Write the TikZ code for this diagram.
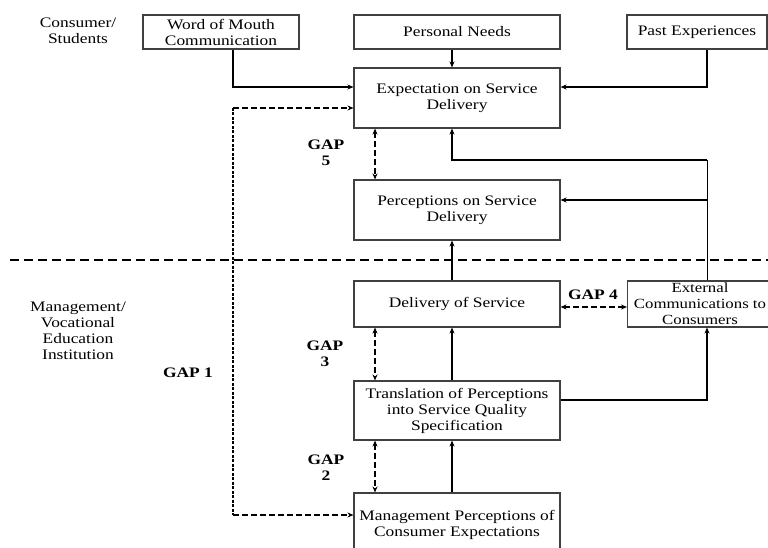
\documentclass[tikz,border=0pt]{standalone}
\usepackage{fontspec}
\setmainfont{Liberation Serif}[FakeStretch=1.2]
\usetikzlibrary{arrows.meta,calc}
\begin{document}
\begin{tikzpicture}[x=1pt,y=-1pt,
  box/.style={draw=black!75,line width=1.1pt,align=center,inner sep=0pt,font=\fontsize{14.5}{16}\selectfont},
  lbl/.style={align=center,inner sep=0pt,font=\fontsize{14.5}{16}\selectfont},
  gap/.style={align=center,inner sep=0pt,font=\fontsize{14.5}{16}\selectfont\bfseries},
  arr/.style={line width=1.6pt,-{Stealth[length=6pt,width=5pt]}},
  thin/.style={line width=1pt},
  darr/.style={line width=1.6pt,dash pattern=on 6pt off 3pt,{Stealth[length=6pt,width=5pt]}-{Stealth[length=6pt,width=5pt]}},
  dsingle/.style={line width=1.6pt,dash pattern=on 6pt off 3pt,-{Stealth[length=6pt,width=5pt]}}]
\clip (0,0) rectangle (768,548);
\useasboundingbox (0,0) rectangle (768,548);
\fill[white] (0,0) rectangle (768,548);
% helper coordinates
\coordinate (xL) at (233,0);
\coordinate (xM) at (452,0);
\coordinate (xG) at (375,0);
\coordinate (xR) at (707,0);
\coordinate (y87) at (0,87);
\coordinate (y108) at (0,108);
\coordinate (y160) at (0,160);
\coordinate (y200) at (0,200);
\coordinate (y307) at (0,307);
\coordinate (y400) at (0,400);
\coordinate (y515) at (0,515);
\coordinate (dL) at (10,260);
\coordinate (dR) at (768,260);
% boxes
\node[box,minimum width=156pt,minimum height=34pt] (wom) at (221,32) {Word of Mouth\\Communication};
\node[box,minimum width=206pt,minimum height=34pt] (pn) at (457,32) {\raisebox{-1pt}{Personal Needs}};
\node[box,minimum width=140pt,minimum height=34pt] (pe) at (697,32) {\raisebox{-1pt}{Past Experiences}};
\node[box,minimum width=206pt,minimum height=60pt] (exp) at (457,98) {Expectation on Service\\Delivery};
\node[box,minimum width=206pt,minimum height=60pt] (per) at (457,210) {Perceptions on Service\\Delivery};
\node[box,minimum width=206pt,minimum height=46pt] (del) at (457,304) {Delivery of Service};
\node[box,minimum width=153pt,minimum height=46pt,anchor=west] (ext) at (627,304) {};
\node[lbl,font=\fontsize{14}{16}\selectfont] (extt) at (700,304) {External\\Communications to\\Consumers};
\node[box,minimum width=206pt,minimum height=59pt] (tra) at (457,410.5) {Translation of Perceptions\\into Service Quality\\Specification};
\node[box,minimum width=206pt,minimum height=64pt] (man) at (457,525) {Management Perceptions of\\Consumer Expectations};
% side labels
\node[lbl] (cs) at (78,31) {Consumer/\\Students};
\node[lbl] (mv) at (78,331) {Management/\\Vocational\\Education\\Institution};
\node[gap] (g1) at (188,373) {GAP 1};
\node[gap] (g5) at (326,153) {GAP\\5};
\node[gap] (g3) at (325,354) {GAP\\3};
\node[gap] (g2) at (326,468) {GAP\\2};
\node[gap] (g4) at (593,295) {GAP 4};
% divider
\draw[line width=1.6pt,dash pattern=on 9pt off 5pt] (dL) -- (dR);
% solid arrows
\draw[arr] (wom.south -| xL) |- (exp.west |- y87);
\draw[arr] (pn.south -| xM) -- (exp.north -| xM);
\draw[arr] (pe.south -| xR) |- (exp.east |- y87);
\draw[thin] (ext.north -| xR) -- (xR |- y160);
\draw[arr] (xR |- y160) -| (exp.south -| xM);
\draw[arr] (xR |- y200) -- (per.east |- y200);
\draw[arr] (del.north -| xM) -- (per.south -| xM);
\draw[arr] (tra.north -| xM) -- (del.south -| xM);
\draw[arr] (tra.east |- y400) -| (ext.south -| xR);
\draw[arr] (man.north -| xM) -- (tra.south -| xM);
% dashed gap arrows
\draw[darr] (exp.south -| xG) -- (per.north -| xG);
\draw[darr] (del.south -| xG) -- (tra.north -| xG);
\draw[darr] (tra.south -| xG) -- (man.north -| xG);
\draw[darr] (del.east |- y307) -- (ext.west |- y307);
\draw[dsingle] (xL |- y108) -- (exp.west |- y108);
\draw[line width=1.6pt,dash pattern=on 3pt off 1.5pt] (xL |- y108) -- (xL |- y515);
\draw[dsingle] (xL |- y515) -- (man.west |- y515);
\end{tikzpicture}
\end{document}
